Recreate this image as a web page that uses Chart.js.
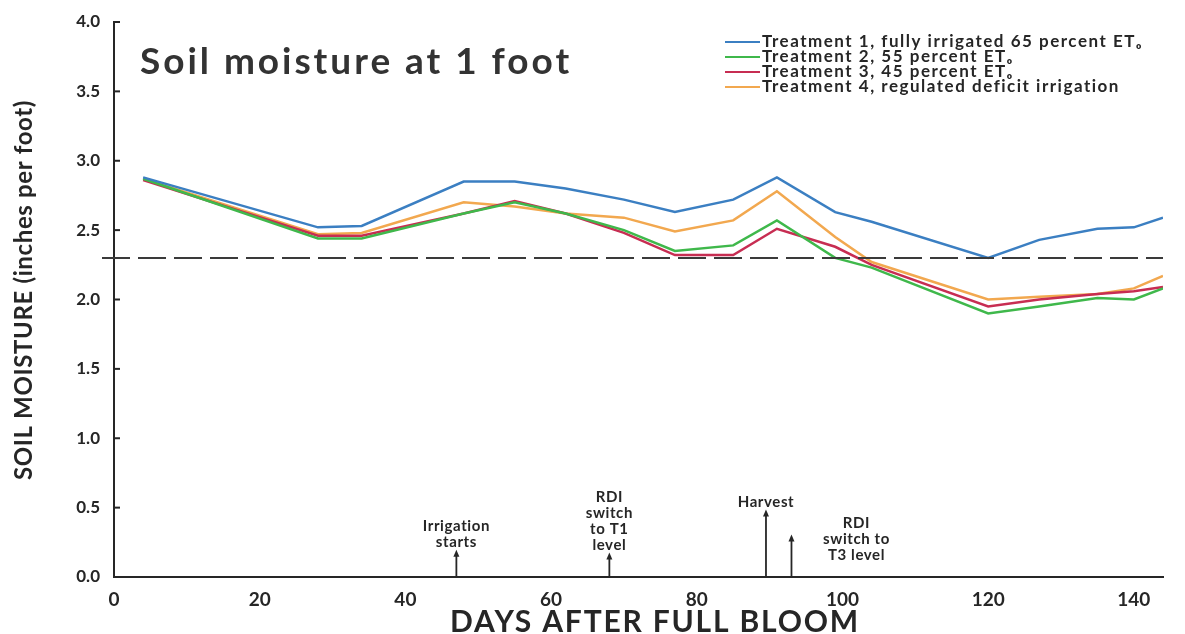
<!DOCTYPE html>
<html>
<head>
<meta charset="utf-8">
<title>Soil moisture at 1 foot</title>
<script src="https://cdn.jsdelivr.net/npm/chart.js@4.4.1/dist/chart.umd.min.js"></script>
<style>
  html, body { margin: 0; padding: 0; background: #fff; }
</style>
</head>
<body>
<canvas id="soilChart" width="1185" height="634"></canvas>
<script>
// Soil moisture at 1 foot, four irrigation treatments
const days = [4, 28, 34, 48, 55, 62, 70, 77, 85, 91, 99, 104, 120, 127, 135, 140, 144];
const treatment1 = [2.88, 2.52, 2.53, 2.85, 2.85, 2.80, 2.72, 2.63, 2.72, 2.88, 2.63, 2.56, 2.30, 2.43, 2.51, 2.52, 2.59];
const treatment2 = [2.87, 2.44, 2.44, 2.62, 2.70, 2.62, 2.50, 2.35, 2.39, 2.57, 2.30, 2.23, 1.90, 1.95, 2.01, 2.00, 2.08];
const treatment3 = [2.86, 2.46, 2.46, 2.62, 2.71, 2.62, 2.48, 2.32, 2.32, 2.51, 2.38, 2.25, 1.95, 2.00, 2.04, 2.06, 2.09];
const treatment4 = [2.87, 2.47, 2.48, 2.70, 2.67, 2.62, 2.59, 2.49, 2.57, 2.78, 2.45, 2.27, 2.00, 2.02, 2.04, 2.08, 2.17];

const seriesLabels = [
    'Treatment 1, fully irrigated 65 percent ET\u2092',
    'Treatment 2, 55 percent ET\u2092',
    'Treatment 3, 45 percent ET\u2092',
    'Treatment 4, regulated deficit irrigation'
];
const seriesColors = ['#3b7fc2', '#3fb84b', '#c72d52', '#f2a84f'];

const xTicks = [0, 20, 40, 60, 80, 100, 120, 140];
const thresholdValue = 2.3;

// events marked with arrows on the day axis
const eventDays = [47, 68, 89.5, 93];
const eventTips = [0.19, 0.17, 0.48, 0.30];
const eventTexts = [
    ['Irrigation', 'starts'],
    ['RDI', 'switch', 'to T1', 'level'],
    ['Harvest'],
    ['RDI', 'switch to', 'T3 level']
];

const chartTitle = 'Soil moisture at 1 foot';
const xTitle = 'DAYS AFTER FULL BLOOM';
const yTitle = 'SOIL MOISTURE (inches per foot)';

const FONT = 'Lato, "Open Sans", "DejaVu Sans", sans-serif';
const INK = '#262626';

Chart.defaults.font.family = FONT;
Chart.defaults.color = INK;

function toPoints(values) {
    return days.map((d, i) => ({ x: d, y: values[i] }));
}

// set font and stretch letter spacing so the text spans the wanted width
function fitFont(ctx, text, font, width) {
    ctx.font = font;
    ctx.letterSpacing = '0px';
    const w = ctx.measureText(text).width;
    const sp = Math.max(0, (width - w) / text.length);
    ctx.letterSpacing = sp.toFixed(2) + 'px';
    return sp;
}

/**
 * Draws the title, legend, axis titles, threshold line, event arrows and y tick marks
 */
const decorations = {
    id: 'decorations',
    afterDatasetsDraw(chart) {
        const { ctx, chartArea, scales } = chart;
        const y = scales.y;

        // dashed threshold line, runs slightly past the y axis
        ctx.save();
        ctx.strokeStyle = '#3a3a3a';
        ctx.lineWidth = 2;
        ctx.setLineDash([28, 8]);
        const ty = y.getPixelForValue(thresholdValue);
        ctx.beginPath();
        ctx.moveTo(chartArea.left - 12, ty);
        ctx.lineTo(chartArea.right, ty);
        ctx.stroke();
        ctx.restore();
    },
    afterDraw(chart) {
        const { ctx, chartArea, scales } = chart;
        const x = scales.x, y = scales.y;

        ctx.save();

        // y tick marks pointing into the plot
        ctx.strokeStyle = INK;
        ctx.lineWidth = 2;
        y.ticks.forEach(t => {
            const py = y.getPixelForValue(t.value);
            ctx.beginPath();
            ctx.moveTo(chartArea.left, py);
            ctx.lineTo(chartArea.left + 6, py);
            ctx.stroke();
        });

        // chart title
        ctx.fillStyle = '#333';
        ctx.textAlign = 'left';
        ctx.textBaseline = 'alphabetic';
        fitFont(ctx, chartTitle, 'bold 37px ' + FONT, 432);
        ctx.fillText(chartTitle, chartArea.left + 26, 74);

        // axis titles
        ctx.fillStyle = INK;
        ctx.textAlign = 'center';
        fitFont(ctx, xTitle, 'bold 30px ' + FONT, 410);
        ctx.fillText(xTitle, 655, 632);

        ctx.save();
        ctx.translate(32, 290);
        ctx.rotate(-Math.PI / 2);
        fitFont(ctx, yTitle, 'bold 24px ' + FONT, 380);
        ctx.fillText(yTitle, 0, 0);
        ctx.restore();

        // legend
        ctx.textAlign = 'left';
        ctx.textBaseline = 'middle';
        const sp = fitFont(ctx, seriesLabels[0], 'bold 17px ' + FONT, 381);
        seriesLabels.forEach((label, i) => {
            const ly = 42 + i * 15;
            ctx.strokeStyle = seriesColors[i];
            ctx.lineWidth = 2;
            ctx.beginPath();
            ctx.moveTo(725, ly);
            ctx.lineTo(760, ly);
            ctx.stroke();
            ctx.letterSpacing = sp.toFixed(2) + 'px';
            ctx.fillStyle = INK;
            ctx.fillText(label, 762, ly);
        });

        // event arrows with labels
        ctx.font = 'bold 15px ' + FONT;
        ctx.letterSpacing = '0.6px';
        ctx.textAlign = 'center';
        ctx.strokeStyle = INK;
        ctx.fillStyle = INK;
        ctx.lineWidth = 1.8;
        eventDays.forEach((d, i) => {
            const px = x.getPixelForValue(d);
            const tip = y.getPixelForValue(eventTips[i]);
            ctx.beginPath();
            ctx.moveTo(px, chartArea.bottom);
            ctx.lineTo(px, tip + 4);
            ctx.stroke();
            ctx.beginPath();
            ctx.moveTo(px, tip - 1);
            ctx.lineTo(px - 3, tip + 6);
            ctx.lineTo(px + 3, tip + 6);
            ctx.closePath();
            ctx.fill();

            const lines = eventTexts[i];
            if (i === 3) {
                // text sits to the right of the last arrow
                lines.forEach((s, k) => ctx.fillText(s, px + 65, tip - 12 + k * 16));
            } else {
                const n = lines.length;
                lines.forEach((s, k) => ctx.fillText(s, px, tip - 8 - (n - 1 - k) * 16));
            }
        });

        ctx.restore();
    }
};

const datasets = [treatment1, treatment2, treatment3, treatment4].map((vals, i) => ({
    label: seriesLabels[i],
    data: toPoints(vals),
    borderColor: seriesColors[i],
    backgroundColor: seriesColors[i],
    borderWidth: 2.5,
    pointRadius: 0,
    tension: 0,
    fill: false
}));

new Chart(document.getElementById('soilChart'), {
    type: 'line',
    data: { datasets },
    options: {
        responsive: false,
        animation: false,
        layout: { padding: { left: 0, top: 22, right: 22, bottom: 0 } },
        plugins: {
            legend: { display: false },
            tooltip: { enabled: false }
        },
        scales: {
            x: {
                type: 'linear',
                min: 0,
                max: 144,
                afterBuildTicks: scale => { scale.ticks = xTicks.map(v => ({ value: v })); },
                afterFit: scale => { scale.height = 57; },
                ticks: { font: { size: 19, weight: 'bold' }, color: INK, padding: 3, maxRotation: 0 },
                grid: { display: false },
                border: { display: true, color: INK, width: 2 }
            },
            y: {
                min: 0,
                max: 4,
                afterFit: scale => { scale.width = 114; },
                ticks: {
                    stepSize: 0.5,
                    callback: v => v.toFixed(1),
                    font: { size: 17, weight: 'bold' },
                    color: INK,
                    padding: 6
                },
                grid: { display: false },
                border: { display: true, color: INK, width: 2 }
            }
        }
    },
    plugins: [decorations]
});
</script>
</body>
</html>
